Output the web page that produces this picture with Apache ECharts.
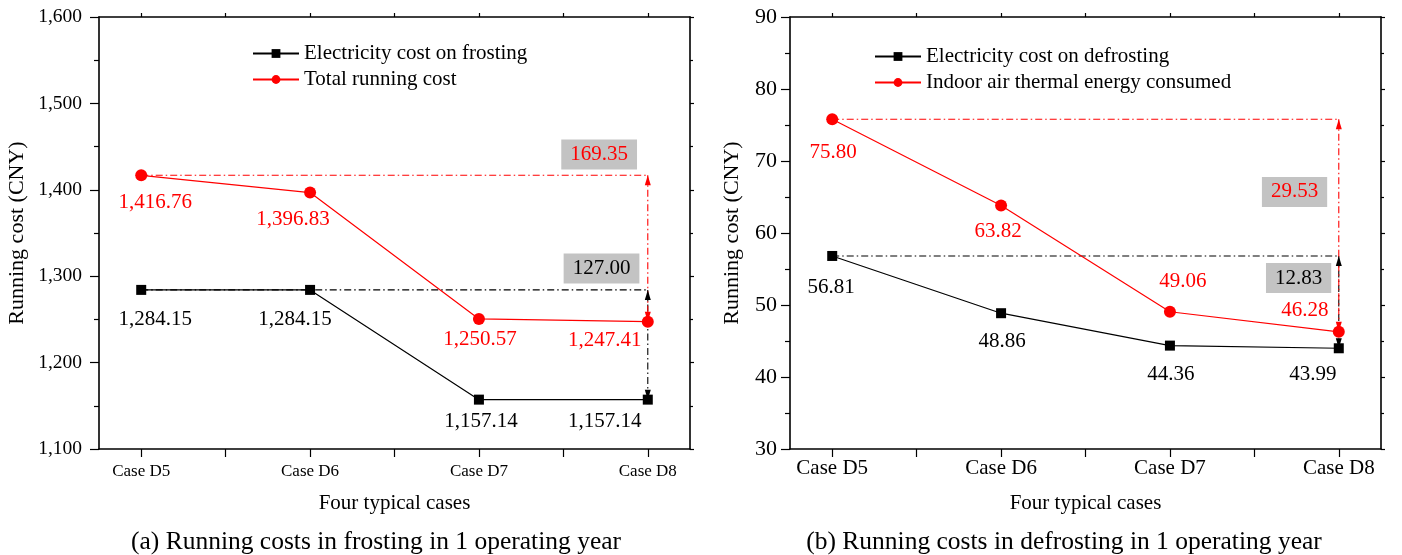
<!DOCTYPE html>
<html><head><meta charset="utf-8">
<script src="https://cdn.jsdelivr.net/npm/echarts@6/dist/echarts.min.js"></script>
<style>html,body{margin:0;padding:0;background:#fff}#c{width:1402px;height:555px}</style>
</head><body><div id="c"></div>
<script>
// ---- data ----
const categories = ['Case D5', 'Case D6', 'Case D7', 'Case D8'];
const frostElec = [1284.15, 1284.15, 1157.14, 1157.14];
const frostTotal = [1416.76, 1396.83, 1250.57, 1247.41];
const defrostElec = [56.81, 48.86, 44.36, 43.99];
const defrostIndoor = [75.80, 63.82, 49.06, 46.28];
const frostLabels = ['1,284.15', '1,284.15', '1,157.14', '1,157.14'];
const frostTotalLabels = ['1,416.76', '1,396.83', '1,250.57', '1,247.41'];
const defrostElecLabels = ['56.81', '48.86', '44.36', '43.99'];
const defrostIndoorLabels = ['75.80', '63.82', '49.06', '46.28'];
const frostDiffs = ['169.35', '127.00'];
const defrostDiffs = ['29.53', '12.83'];
const titles = ['(a) Running costs in frosting in 1 operating year', '(b) Running costs in defrosting in 1 operating year'];

// ---- styles ----
const FONT = 'Liberation Serif';
const RED = '#ff0000';
const DASHDOT = [7, 3, 1.5, 3];
const BOX = '#c3c3c3';

// label offsets per point (style only)
const offFrostElec = [[14, 30], [-15, 30], [2, 22], [-43, 22]];
const offFrostTotal = [[14, 27], [-17, 27], [1, 21], [-43, 19]];
const offDefElec = [[-1, 32], [1, 28], [1, 29], [-26, 26]];
const offDefInd = [[1, 33], [-3, 26], [13, -30], [-34, -21]];

function pts(vals, labels, offs, fs, color) {
  return vals.map((v, i) => ({
    value: [i + 1, v],
    label: {show: true, formatter: labels[i], offset: offs[i], position: 'inside', color: color, fontSize: fs, fontFamily: FONT}
  }));
}

function xAxes(gi, fs, margin) {
  return [{
    type: 'value', gridIndex: gi, min: 0.75, max: 4.25,
    name: 'Four typical cases', nameLocation: 'middle', nameGap: 44,
    nameTextStyle: {fontFamily: FONT, fontSize: 21, color: '#000'},
    axisLine: {show: true, onZero: false, lineStyle: {color: '#000', width: 1.6}},
    axisTick: {show: true, length: 8, customValues: [1, 1.5, 2, 2.5, 3, 3.5, 4], lineStyle: {color: '#000', width: 1.2}},
    axisLabel: {customValues: [1, 2, 3, 4], formatter: v => categories[Math.round(v) - 1], fontFamily: FONT, fontSize: fs, color: '#000', margin: margin},
    splitLine: {show: false}
  }, {
    type: 'value', gridIndex: gi, min: 0.75, max: 4.25, position: 'top',
    axisLine: {show: true, onZero: false, lineStyle: {color: '#000', width: 1.6}},
    axisTick: {show: true, length: 4, customValues: [1, 1.5, 2, 2.5, 3, 3.5, 4], lineStyle: {color: '#000', width: 1.2}},
    axisLabel: {show: false}, splitLine: {show: false}
  }];
}

function yAxes(gi, min, max, interval, fs, gap, margin, fmt) {
  return [{
    type: 'value', gridIndex: gi, min: min, max: max, interval: interval,
    name: 'Running cost (CNY)', nameLocation: 'middle', nameGap: gap, nameRotate: 90,
    nameTextStyle: {fontFamily: FONT, fontSize: 22, color: '#000'},
    axisLine: {show: true, onZero: false, lineStyle: {color: '#000', width: 1.6}},
    axisTick: {show: true, length: 9, lineStyle: {color: '#000', width: 1.2}},
    minorTick: {show: true, splitNumber: 2, length: 5, lineStyle: {color: '#000', width: 1.2}},
    axisLabel: {formatter: fmt, fontFamily: FONT, fontSize: fs, color: '#000', margin: margin},
    splitLine: {show: false}
  }, {
    type: 'value', gridIndex: gi, min: min, max: max, interval: interval, position: 'right',
    axisLine: {show: true, onZero: false, lineStyle: {color: '#000', width: 1.6}},
    axisTick: {show: true, length: 4, lineStyle: {color: '#000', width: 1.2}},
    minorTick: {show: true, splitNumber: 2, length: 3, lineStyle: {color: '#000', width: 1.2}},
    axisLabel: {show: false}, splitLine: {show: false}
  }];
}

function lineSeries(name, xi, yi, data, color, symbol, size) {
  return {
    name: name, type: 'line', xAxisIndex: xi, yAxisIndex: yi, data: data,
    symbol: symbol, symbolSize: size, showAllSymbol: true,
    itemStyle: {color: color}, lineStyle: {color: color, width: 1.2},
    z: 4
  };
}

// dash-dot guide lines: horizontal from case D5 to D8, vertical double arrow at D8
function guides(topVal, lowVal, color, xi) {
  const ls = {color: color, type: DASHDOT, width: 1.1};
  return [{
    type: 'line', xAxisIndex: xi, yAxisIndex: xi, silent: true, z: 2,
    data: [[1, topVal], [4, topVal]], symbol: 'none', lineStyle: ls, itemStyle: {color: color}
  }, {
    type: 'line', xAxisIndex: xi, yAxisIndex: xi, silent: true, z: 3,
    data: [
      {value: [4, topVal], symbolRotate: 0, symbolOffset: [0, 5]},
      {value: [4, lowVal], symbolRotate: 180, symbolOffset: [0, -5]}
    ],
    symbol: 'triangle', symbolSize: [6, 10], showAllSymbol: true,
    lineStyle: ls, itemStyle: {color: color}
  }];
}

function boxPoint(x, y, text, color, fs) {
  return {
    coord: [x, y], symbol: 'rect', symbolSize: 0,
    label: {show: true, position: 'inside', formatter: text, color: color, fontFamily: FONT, fontSize: fs,
      backgroundColor: BOX, padding: [5, 9, 4, 9]}
  };
}

const sFrostElec = lineSeries('Electricity cost on frosting', 0, 0, pts(frostElec, frostLabels, offFrostElec, 21, '#000'), '#000', 'rect', 10);
const sFrostTotal = lineSeries('Total running cost', 0, 0, pts(frostTotal, frostTotalLabels, offFrostTotal, 21, RED), RED, 'circle', 12);
sFrostTotal.markPoint = {silent: true, animation: false, data: [
  boxPoint(3.712, 1441, frostDiffs[0], RED, 21),
  boxPoint(3.726, 1309, frostDiffs[1], '#000', 21)
]};

const sDefElec = lineSeries('Electricity cost on defrosting', 2, 2, pts(defrostElec, defrostElecLabels, offDefElec, 21, '#000'), '#000', 'rect', 10);
const sDefInd = lineSeries('Indoor air thermal energy consumed', 2, 2, pts(defrostIndoor, defrostIndoorLabels, offDefInd, 21, RED), RED, 'circle', 12);
sDefInd.markPoint = {silent: true, animation: false, data: [
  boxPoint(3.738, 65.7, defrostDiffs[0], RED, 21),
  boxPoint(3.762, 53.75, defrostDiffs[1], '#000', 21)
]};

const legendBase = {orient: 'vertical', itemWidth: 46, itemHeight: 11, itemGap: 5,
  textStyle: {fontFamily: FONT, fontSize: 21, color: '#000'}};

const option = {
  animation: false,
  backgroundColor: '#fff',
  grid: [
    {left: 99, top: 17, width: 591, height: 432},
    {left: 790, top: 17, width: 591, height: 432}
  ],
  xAxis: [...xAxes(0, 17, 14), ...xAxes(1, 21, 9)],
  yAxis: [
    ...yAxes(0, 1100, 1600, 100, 19.5, 71, 17, v => v.toLocaleString('en-US')),
    ...yAxes(1, 30, 90, 10, 22, 47, 13, v => v)
  ],
  legend: [
    Object.assign({}, legendBase, {left: 247, top: 38, data: ['Electricity cost on frosting', 'Total running cost']}),
    Object.assign({}, legendBase, {left: 869, top: 41, data: ['Electricity cost on defrosting', 'Indoor air thermal energy consumed']})
  ],
  title: [
    {text: titles[0], left: 376, textAlign: 'center', top: 529, padding: 0, textStyle: {fontFamily: FONT, fontSize: 25.5, fontWeight: 'normal', color: '#000'}},
    {text: titles[1], left: 1064, textAlign: 'center', top: 529, padding: 0, textStyle: {fontFamily: FONT, fontSize: 25.5, fontWeight: 'normal', color: '#000'}}
  ],
  series: [
    ...guides(frostElec[0], frostElec[3], '#000', 0),
    ...guides(frostTotal[0], frostTotal[3], RED, 0),
    ...guides(defrostElec[0], defrostElec[3], '#000', 2),
    ...guides(defrostIndoor[0], defrostIndoor[3], RED, 2),
    sFrostElec, sFrostTotal, sDefElec, sDefInd
  ]
};
const chart = echarts.init(document.getElementById('c'), null, {renderer: 'canvas'});
chart.setOption(option);
</script>
</body></html>
